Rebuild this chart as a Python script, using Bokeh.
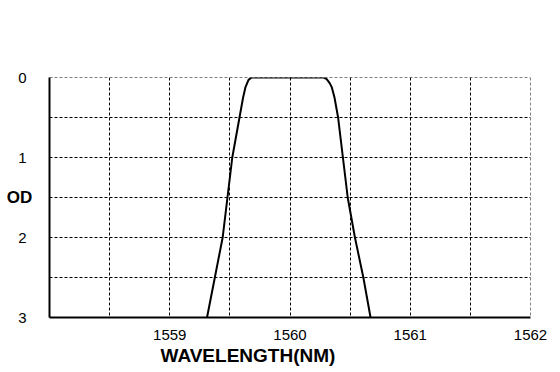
from bokeh.plotting import figure
from bokeh.models import Range1d, FixedTicker, Title, Span
from bokeh.embed import file_html
from bokeh.resources import INLINE

wavelength = [1559.31, 1559.375, 1559.44, 1559.48, 1559.52, 1559.58, 1559.61, 1559.63,
              1559.655, 1559.68, 1559.72, 1560.0, 1560.28, 1560.305, 1560.33, 1560.347,
              1560.37, 1560.40, 1560.44, 1560.48, 1560.54, 1560.61, 1560.67]
od = [3.0, 2.5, 2.0, 1.5, 1.0, 0.5, 0.25, 0.12,
      0.03, 0.0, 0.0, 0.0, 0.0, 0.02, 0.07, 0.12,
      0.25, 0.5, 1.0, 1.5, 2.0, 2.5, 3.0]

x_ticks = [1559, 1560, 1561, 1562]
x_minor = [1558.5, 1559.5, 1560.5, 1561.5]
y_ticks = [0, 1, 2, 3]
y_minor = [0.5, 1.5, 2.5]
x_title = "WAVELENGTH(NM)"
y_title = "OD"

FONT = "Liberation Sans"

p = figure(width=560, height=372, output_backend="svg", toolbar_location=None,
           x_range=Range1d(1558, 1562), y_range=Range1d(3, 0),
           min_border_left=49, min_border_right=30, min_border_top=77, min_border_bottom=55)
p.outline_line_color = None

p.xaxis.ticker = FixedTicker(ticks=x_ticks, minor_ticks=x_minor)
p.yaxis.ticker = FixedTicker(ticks=y_ticks, minor_ticks=y_minor)

for ax in (p.xaxis, p.yaxis):
    ax.axis_line_width = 2
    ax.axis_line_color = "black"
    ax.major_tick_line_color = None
    ax.minor_tick_line_color = None
    ax.major_label_text_font = FONT
    ax.major_label_text_font_size = "15px"
    ax.major_label_text_color = "black"
p.xaxis.major_label_standoff = 6
p.yaxis.major_label_standoff = 17

p.yaxis.axis_label = y_title
p.yaxis.axis_label_text_font = FONT
p.yaxis.axis_label_text_font_size = "17px"
p.yaxis.axis_label_text_font_style = "bold"
p.yaxis.axis_label_text_color = "black"
p.yaxis.axis_label_orientation = "horizontal"
p.yaxis.axis_label_standoff = -17

for g in (p.xgrid, p.ygrid):
    g.grid_line_color = "black"
    g.grid_line_dash = "3 2"
    g.minor_grid_line_color = "black"
    g.minor_grid_line_dash = "3 2"

p.add_layout(Span(location=y_ticks[0], dimension="width", line_color="black", line_dash="3 2"))
p.add_layout(Span(location=x_ticks[-1], dimension="height", line_color="black", line_dash="3 2"))

p.line(wavelength, od, line_color="black", line_width=2)

p.add_layout(Title(text=x_title, align="left", offset=111, standoff=0, text_font=FONT,
                   text_font_size="19px", text_font_style="bold", text_color="black"), "below")

open("out.html", "w").write(file_html(p, INLINE))
